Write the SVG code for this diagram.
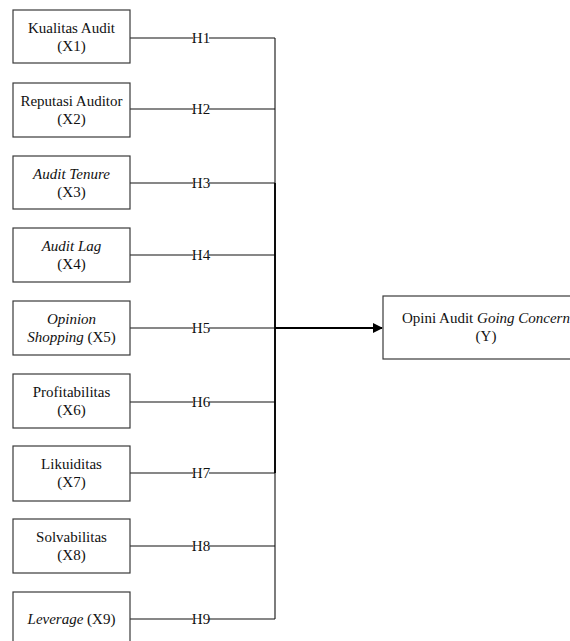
<svg xmlns="http://www.w3.org/2000/svg" width="570" height="641" viewBox="0 0 570 641">
<style>
.box{fill:#fff;stroke:#3a3a3a;stroke-width:1.2}
.t{font-size:15px;fill:#111;text-anchor:middle}
.i{font-style:italic}
.ln{stroke:#111;stroke-width:1.1;fill:none}
</style>
<defs>
<marker id="ah" markerWidth="10" markerHeight="10" refX="9" refY="5" orient="auto" markerUnits="userSpaceOnUse">
<path d="M0,0 L10,5 L0,10 z" fill="#000"/>
</marker>
</defs>
<rect width="570" height="641" fill="#fff"/>
<g font-family="'Liberation Serif', 'DejaVu Serif', serif">
<g id="connectors">
<path class="ln" d="M130,38 H275 M130,109 H275 M130,183 H275 M130,255 H275 M130,328 H275 M130,402 H275 M130,473 H275 M130,546 H275 M130,619 H275"/>
<path class="ln" d="M275,38 V619"/>
<path d="M275,183 V473" stroke="#000" stroke-width="1.8"/>
<path d="M275,328 H382" stroke="#000" stroke-width="2" marker-end="url(#ah)"/>
<g fill="#fff">
<rect x="193" y="30" width="16" height="15"/>
<rect x="193" y="101" width="16" height="15"/>
<rect x="193" y="175" width="16" height="15"/>
<rect x="193" y="247" width="16" height="15"/>
<rect x="193" y="320" width="16" height="15"/>
<rect x="193" y="394" width="16" height="15"/>
<rect x="193" y="465" width="16" height="15"/>
<rect x="193" y="538" width="16" height="15"/>
<rect x="193" y="611" width="16" height="15"/>
</g>
<text class="t" x="201" y="43">H1</text>
<text class="t" x="201" y="114">H2</text>
<text class="t" x="201" y="188">H3</text>
<text class="t" x="201" y="260">H4</text>
<text class="t" x="201" y="333">H5</text>
<text class="t" x="201" y="407">H6</text>
<text class="t" x="201" y="478">H7</text>
<text class="t" x="201" y="551">H8</text>
<text class="t" x="201" y="624">H9</text>
</g>
<g id="x1"><rect class="box" x="13" y="10" width="117" height="53"/><text class="t" x="71.5" y="33">Kualitas Audit</text><text class="t" x="71.5" y="51">(X1)</text></g>
<g id="x2"><rect class="box" x="13" y="83" width="117" height="54"/><text class="t" x="71.5" y="106">Reputasi Auditor</text><text class="t" x="71.5" y="124">(X2)</text></g>
<g id="x3"><rect class="box" x="13" y="156" width="117" height="53"/><text class="t i" x="71.5" y="179">Audit Tenure</text><text class="t" x="71.5" y="197">(X3)</text></g>
<g id="x4"><rect class="box" x="13" y="228" width="117" height="54"/><text class="t i" x="71.5" y="251">Audit Lag</text><text class="t" x="71.5" y="269">(X4)</text></g>
<g id="x5"><rect class="box" x="13" y="301" width="117" height="54"/><text class="t i" x="71.5" y="324">Opinion</text><text class="t" x="71.5" y="342"><tspan class="i">Shopping</tspan> (X5)</text></g>
<g id="x6"><rect class="box" x="13" y="374" width="117" height="54"/><text class="t" x="71.5" y="397">Profitabilitas</text><text class="t" x="71.5" y="415">(X6)</text></g>
<g id="x7"><rect class="box" x="13" y="446" width="117" height="55"/><text class="t" x="71.5" y="469">Likuiditas</text><text class="t" x="71.5" y="487">(X7)</text></g>
<g id="x8"><rect class="box" x="13" y="519" width="117" height="54"/><text class="t" x="71.5" y="542">Solvabilitas</text><text class="t" x="71.5" y="560">(X8)</text></g>
<g id="x9"><rect class="box" x="13" y="592" width="117" height="54"/><text class="t" x="71.5" y="624"><tspan class="i">Leverage</tspan> (X9)</text></g>
<g id="y"><rect class="box" x="383" y="296" width="188" height="63"/><text class="t" x="486" y="323">Opini Audit <tspan class="i">Going Concern</tspan></text><text class="t" x="486" y="341">(Y)</text></g>
</g>
</svg>
